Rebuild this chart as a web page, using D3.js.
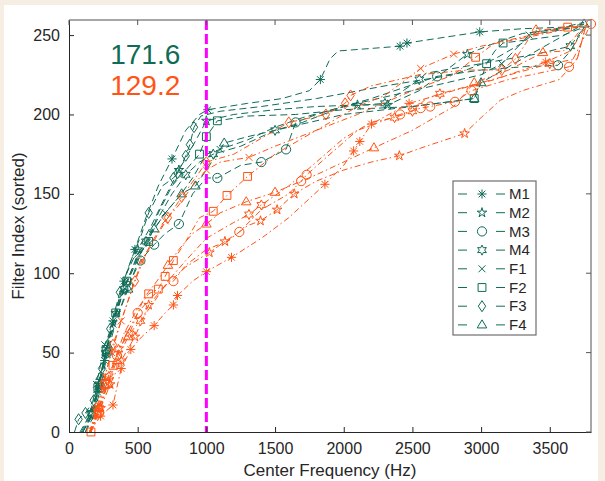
<!DOCTYPE html>
<html>
<head>
<meta charset="utf-8">
<script src="https://cdn.jsdelivr.net/npm/d3@7"></script>
<style>
  body { margin: 0; background: #f6eee3; }
  text { font-family: "Liberation Sans", Arial, sans-serif; }
</style>
</head>
<body>
<svg id="chart" width="605" height="481"></svg>
<script>
// speakers, in legend order
const speakers = ["M1", "M2", "M3", "M4", "F1", "F2", "F3", "F4"];
const markerOf = ["asterisk", "pentagram", "circle", "hexagram", "times", "square", "diamond", "triangle"];

const xTicks = [0, 500, 1000, 1500, 2000, 2500, 3000, 3500];
const yTicks = [0, 50, 100, 150, 200, 250];
const cutoffHz = 1000;
const meanGreen = "171.6";
const meanOrange = "129.2";

// [center frequency (Hz), sorted filter index] -- green (dashed) set
const gM1 = [[100,0],[170,10],[210,25],[260,45],[320,70],[400,95],[480,115],[560,135],[650,155],[750,172],[850,190],[950,200],[1010,203],[1300,207],[1550,210],[1750,215],[1830,222],[1900,235],[1960,240],[2410,243],[2460,245],[2990,252],[3300,254],[3600,255],[3750,258]];
const gM2 = [[80,0],[160,12],[220,30],[270,50],[340,75],[420,100],[500,115],[600,130],[700,148],[800,165],[900,180],[1000,196],[1200,200],[1500,203],[1800,205],[2100,206],[2320,206],[2550,215],[2900,238],[3100,245],[3300,251],[3700,255]];
const gM3 = [[120,0],[180,10],[230,28],[280,50],[350,72],[430,92],[520,108],[620,118],[700,125],[800,131],[900,150],[1000,160],[1080,160],[1250,168],[1400,170],[1580,178],[1650,195],[1800,200],[2200,210],[2680,224],[3000,228],[3300,230],[3560,231],[3650,240],[3750,255]];
const gM4 = [[100,0],[170,12],[220,30],[270,50],[330,70],[400,90],[480,105],[560,120],[650,135],[750,150],[850,162],[950,170],[1050,175],[1250,180],[1500,190],[1700,195],[2000,205],[2300,207],[2550,222],[2600,226],[3000,232],[3400,238],[3650,243],[3750,255]];
const gF1 = [[90,0],[150,10],[200,30],[260,55],[320,68],[400,90],[500,112],[600,125],[700,138],[800,148],[900,160],[1000,175],[1100,178],[1300,184],[1500,192],[1700,198],[2000,205],[2500,215],[3000,225],[3150,232],[3350,250],[3700,255]];
const gF2 = [[100,0],[160,10],[210,28],[270,52],[340,75],[420,95],[500,110],[580,120],[650,138],[750,155],[850,165],[950,175],[1000,186],[1080,196],[1300,199],[1650,200],[2000,203],[2500,205],[2950,210],[3040,232],[3100,240],[3160,245],[3600,250],[3750,255]];
const gF3 = [[40,0],[70,8],[120,12],[180,20],[240,40],[300,65],[370,88],[450,108],[530,125],[580,138],[680,155],[760,160],[790,163],[850,174],[880,181],[910,192],[960,199],[1100,202],[1400,205],[1800,210],[2300,218],[2800,225],[3100,235],[3300,245],[3400,252],[3750,257]];
const gF4 = [[120,0],[180,15],[230,35],[280,55],[350,72],[430,90],[520,112],[620,128],[720,140],[820,150],[920,155],[1000,165],[1130,182],[1300,186],[1600,192],[2000,200],[2500,205],[2950,210],[3000,220],[3300,235],[3750,257]];

// orange (dash-dot) set
const oM1 = [[150,0],[230,10],[320,17],[380,40],[450,52],[530,60],[620,67],[700,75],[760,80],[790,86],[900,95],[1000,101],[1183,110],[1400,122],[1600,135],[1863,156],[2000,168],[2072,177],[2117,183],[2202,194],[2476,207],[2800,215],[3100,222],[3470,233],[3650,240],[3760,255]];
const oM2 = [[150,0],[230,15],[300,30],[380,45],[480,60],[580,80],[700,92],[850,104],[1022,113],[1135,120],[1240,126],[1300,130],[1394,133],[1515,140],[1640,150],[1800,158],[2000,165],[2200,170],[2405,174],[2600,180],[2880,188],[3000,198],[3140,209],[3300,215],[3570,222],[3700,235],[3760,255]];
const oM3 = [[160,0],[220,12],[280,30],[350,48],[420,62],[500,75],[600,85],[700,92],[760,95],[850,105],[1000,115],[1150,120],[1240,126],[1400,140],[1600,150],[1690,158],[1730,162],[1900,175],[2100,190],[2410,200],[2560,204],[2630,205],[2810,208],[2930,215],[3200,222],[3640,230],[3700,240],[3800,257]];
const oM4 = [[150,0],[220,15],[290,35],[360,52],[440,62],[520,70],[620,82],[720,95],[850,108],[1000,122],[1200,132],[1310,137],[1400,143],[1600,155],[1800,170],[2000,185],[2200,195],[2370,198],[2500,202],[2600,210],[2700,213],[3000,220],[3500,232],[3700,235],[3760,255]];
const oF1 = [[150,0],[210,15],[260,35],[310,50],[380,70],[450,88],[530,108],[620,122],[700,133],[800,143],[900,155],[1000,165],[1100,170],[1310,173],[1500,180],[1800,190],[2100,205],[2300,212],[2560,229],[2800,238],[3000,243],[3300,248],[3700,255]];
const oF2 = [[160,0],[210,12],[260,30],[320,42],[400,62],[500,78],[580,87],[650,90],[700,98],[760,108],[850,120],[950,135],[1050,139],[1150,149],[1300,161],[1500,175],[1800,190],[2100,200],[2500,215],[2800,225],[2960,236],[3100,245],[3630,255],[3780,256]];
const oF3 = [[150,0],[200,15],[250,30],[320,55],[400,75],[480,95],[560,112],[650,125],[720,135],[820,148],[920,160],[1000,170],[1200,175],[1400,185],[1600,195],[1870,200],[2010,207],[2050,212],[2200,218],[2550,225],[2900,228],[3150,228],[3250,235],[3350,248],[3400,253],[3770,256]];
const oF4 = [[160,0],[220,15],[280,30],[350,45],[430,60],[500,75],[550,85],[640,95],[720,105],[800,115],[900,125],[1000,131],[1100,138],[1290,145],[1500,151],[1800,162],[2220,179],[2500,190],[2800,205],[2950,220],[3200,228],[3450,239],[3600,240],[3750,256]];

// which points of each curve carry a marker (indices into the arrays above)
const gMarks = [[2,3,4,5,6,9,12,16,19,20,21],[1,2,3,4,6,9,11,15,16,18],[2,3,5,6,7,9,12,14,15,16,19,22],[1,2,3,5,7,10,12,14,17,18,22],[1,2,3,4,6,8,12,19,20],[2,3,4,5,7,11,12,13,18,19,21],[1,2,3,4,5,6,9,11,12,13,14,15],[2,3,5,7,9,10,12,17,18,20]];
const oMarks = [[1,2,3,4,6,8,9,11,12,15,17,18,19,20,23],[1,2,3,4,5,8,9,12,13,14,18,20],[1,2,3,5,8,12,15,16,19,20,21,22,23,25,27],[1,2,3,4,5,11,12,17,18,20,22],[1,2,3,4,6,8,11,13,18,19],[0,1,2,3,6,7,8,9,12,13,14,20,22],[1,2,3,5,8,9,11,14,15,16,17,21,22,24],[1,2,3,4,8,11,13,14,16,19,21]];

const greenSet = [gM1, gM2, gM3, gM4, gF1, gF2, gF3, gF4];
const orangeSet = [oM1, oM2, oM3, oM4, oF1, oF2, oF3, oF4];

const GREEN = "#0f6c57", ORANGE = "#ff5414";

const svg = d3.select("#chart");
const margin = {left: 69, right: 14, top: 20, bottom: 49};
const W = 605, H = 481;

svg.append("rect").attr("x", 4).attr("y", 5).attr("width", 594).attr("height", 476).attr("fill", "#fff");

const x = d3.scaleLinear().domain([0, 3800]).range([margin.left, W - margin.right]);
const y = d3.scaleLinear().domain([0, 259.5]).range([H - margin.bottom, margin.top]);

// marker shapes
function markerPath(kind, r) {
  const p = d3.path();
  if (kind === "asterisk") {
    const d = r * 0.72;
    p.moveTo(0, -r); p.lineTo(0, r);
    p.moveTo(-r, 0); p.lineTo(r, 0);
    p.moveTo(-d, -d); p.lineTo(d, d);
    p.moveTo(-d, d); p.lineTo(d, -d);
  } else if (kind === "times") {
    const d = r * 0.75;
    p.moveTo(-d, -d); p.lineTo(d, d);
    p.moveTo(-d, d); p.lineTo(d, -d);
  } else if (kind === "circle") {
    p.moveTo(r, 0); p.arc(0, 0, r, 0, 2 * Math.PI);
  } else if (kind === "square") {
    const s = r * 0.85;
    p.rect(-s, -s, 2 * s, 2 * s);
  } else if (kind === "diamond") {
    p.moveTo(0, -r * 1.2); p.lineTo(r * 0.8, 0); p.lineTo(0, r * 1.2); p.lineTo(-r * 0.8, 0); p.closePath();
  } else if (kind === "triangle") {
    const h = r * 1.1;
    p.moveTo(0, -h); p.lineTo(h * 0.95, h * 0.6); p.lineTo(-h * 0.95, h * 0.6); p.closePath();
  } else if (kind === "pentagram" || kind === "hexagram") {
    const n = kind === "pentagram" ? 5 : 6;
    const inner = kind === "pentagram" ? 0.4 : 0.58;
    for (let i = 0; i < 2 * n; i++) {
      const a = -Math.PI / 2 + i * Math.PI / n;
      const rr = i % 2 ? r * inner : r * 1.1;
      if (i === 0) p.moveTo(rr * Math.cos(a), rr * Math.sin(a));
      else p.lineTo(rr * Math.cos(a), rr * Math.sin(a));
    }
    p.closePath();
  }
  return p.toString();
}

const line = d3.line().x(d => x(d[0])).y(d => y(d[1]));
const plot = svg.append("g");

function drawSet(set, marks, color, dash) {
  set.forEach((pts, i) => {
    plot.append("path")
      .datum(pts)
      .attr("d", line)
      .attr("fill", "none")
      .attr("stroke", color)
      .attr("stroke-width", 1)
      .attr("stroke-dasharray", dash);
    plot.selectAll(null)
      .data(marks[i].map(k => pts[k]))
      .join("path")
      .attr("transform", d => `translate(${x(d[0])},${y(d[1])})`)
      .attr("d", markerPath(markerOf[i], 4.6))
      .attr("fill", "none")
      .attr("stroke", color)
      .attr("stroke-width", 1);
  });
}

drawSet(greenSet, gMarks, GREEN, "7,4");
drawSet(orangeSet, oMarks, ORANGE, "6,3,1.5,3");

// 1 kHz marker line
svg.append("line")
  .attr("x1", x(cutoffHz)).attr("x2", x(cutoffHz))
  .attr("y1", y.range()[1]).attr("y2", y.range()[0])
  .attr("stroke", "#ff00ff").attr("stroke-width", 3)
  .attr("stroke-dasharray", "10,4");

// frame
const [x0, x1] = x.range(), [y0, y1] = y.range();
svg.append("line").attr("x1", x0).attr("x2", x1).attr("y1", y1).attr("y2", y1).attr("stroke", "#8a8a8a").attr("stroke-width", 1.5);
svg.append("line").attr("x1", x1).attr("x2", x1).attr("y1", y1).attr("y2", y0).attr("stroke", "#8a8a8a").attr("stroke-width", 1.5);

const xAxis = svg.append("g").attr("transform", `translate(0,${y0})`)
  .call(d3.axisBottom(x).tickValues(xTicks).tickFormat(d3.format("d")).tickSizeInner(-5).tickSizeOuter(0).tickPadding(11));
const yAxis = svg.append("g").attr("transform", `translate(${x0},0)`)
  .call(d3.axisLeft(y).tickValues(yTicks).tickFormat(d3.format("d")).tickSizeInner(-5).tickSizeOuter(0).tickPadding(9));
[xAxis, yAxis].forEach(a => {
  a.select(".domain").attr("stroke", "#262626");
  a.selectAll("line").attr("stroke", "#262626");
  a.selectAll("text").attr("font-size", 16).attr("fill", "#262626").attr("font-family", "Liberation Sans, Arial, sans-serif");
});
// mirrored ticks on top and right
svg.append("g").selectAll("line").data(xTicks).join("line")
  .attr("x1", d => x(d)).attr("x2", d => x(d)).attr("y1", y1).attr("y2", y1 + 5)
  .attr("stroke", "#555");
svg.append("g").selectAll("line").data(yTicks).join("line")
  .attr("y1", d => y(d)).attr("y2", d => y(d)).attr("x1", x1).attr("x2", x1 - 5)
  .attr("stroke", "#555");

// axis titles
svg.append("text").attr("x", (x0 + x1) / 2).attr("y", 476)
  .attr("text-anchor", "middle").attr("font-size", 17).attr("fill", "#262626")
  .text("Center Frequency (Hz)");
svg.append("text").attr("transform", `translate(24,${(y0 + y1) / 2}) rotate(-90)`)
  .attr("text-anchor", "middle").attr("font-size", 17).attr("fill", "#262626")
  .text("Filter Index (sorted)");

// mean values
svg.append("text").attr("x", x(300)).attr("y", y(232)).attr("font-size", 28).attr("fill", GREEN).text(meanGreen);
svg.append("text").attr("x", x(300)).attr("y", y(212)).attr("font-size", 28).attr("fill", ORANGE).text(meanOrange);

// legend
const lg = svg.append("g").attr("transform", "translate(453,181)");
lg.append("rect").attr("width", 83).attr("height", 154).attr("fill", "#fff").attr("stroke", "#6e6e6e").attr("stroke-width", 1.2);
speakers.forEach((name, i) => {
  const row = lg.append("g").attr("transform", `translate(0,${13 + i * 18.7})`);
  row.append("line").attr("x1", 5).attr("x2", 14).attr("stroke", GREEN);
  row.append("line").attr("x1", 43).attr("x2", 52).attr("stroke", GREEN);
  row.append("path").attr("transform", "translate(29,0)").attr("d", markerPath(markerOf[i], 4.6))
    .attr("fill", "none").attr("stroke", GREEN);
  row.append("text").attr("x", 56).attr("dy", "0.35em").attr("font-size", 15).attr("fill", "#262626").text(name);
});
</script>
</body>
</html>
